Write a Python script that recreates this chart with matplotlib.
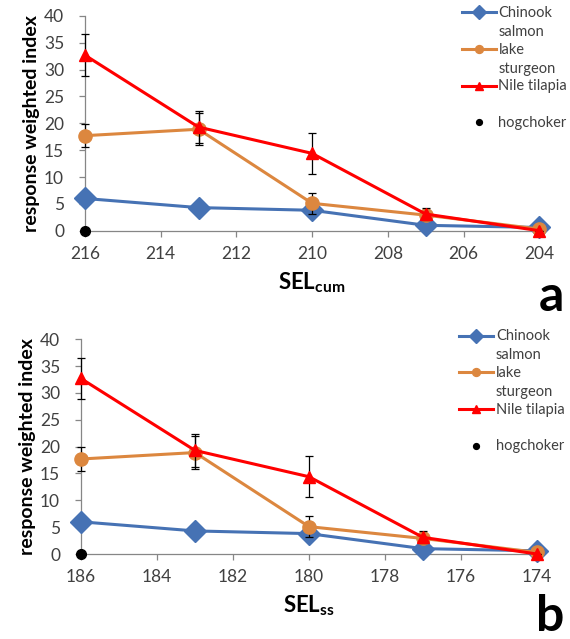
import matplotlib

matplotlib.use("Agg")
import matplotlib.pyplot as plt

plt.rcParams["font.family"] = ["Lato", "DejaVu Sans"]
plt.rcParams["mathtext.fontset"] = "custom"
plt.rcParams["mathtext.rm"] = "Lato"
plt.rcParams["mathtext.bf"] = "Lato:bold"

# data
sel_cum = [216, 213, 210, 207, 204]
sel_ss = [186, 183, 180, 177, 174]
chinook = [6.0, 4.3, 3.8, 1.0, 0.6]
sturgeon = [17.7, 18.9, 5.1, 2.9, 0.3]
sturgeon_err = [2.2, 3.0, 2.0, 0.0, 0.0]
tilapia = [32.7, 19.3, 14.4, 3.1, 0.0]
tilapia_err = [3.9, 3.0, 3.8, 1.1, 0.0]
hogchoker = [0.0]

C_BLUE = "#4672B4"
C_ORANGE = "#DC873F"
C_RED = "#FF0000"
C_AXIS = "#868686"
C_TICK = "#404040"


def draw_panel(ax, x, xlabel, letter, letter_y):
  l1, = ax.plot(x, chinook, "-D", color=C_BLUE, lw=2.2, ms=11.5, clip_on=False,
                zorder=3)
  e2 = ax.errorbar(x, sturgeon, yerr=sturgeon_err, fmt="-o", color=C_ORANGE,
                   lw=2.2, ms=9.5, ecolor="black", elinewidth=0.9, capsize=3,
                   capthick=0.9, clip_on=False, zorder=4)
  e3 = ax.errorbar(x, tilapia, yerr=tilapia_err, fmt="-^", color=C_RED, lw=2.2,
                   ms=9, ecolor="black", elinewidth=0.9, capsize=3, capthick=0.9,
                   clip_on=False, zorder=5)
  l4, = ax.plot(x[:1], hogchoker, "o", color="black", ms=7, clip_on=False,
                zorder=6)

  ax.set_xlim(x[0], x[-1])
  ax.set_ylim(0, 40)
  ax.set_yticks(range(0, 41, 5))
  ax.set_xticks(range(x[0], x[-1] - 1, -2))
  for s in ("top", "right"):
    ax.spines[s].set_visible(False)
  for s in ("left", "bottom"):
    ax.spines[s].set_color(C_AXIS)
    ax.spines[s].set_linewidth(0.9)
  ax.tick_params(colors=C_AXIS, labelcolor=C_TICK, labelsize=12.5, length=4,
                 width=0.9)
  ax.tick_params(axis="x", pad=7)
  ax.tick_params(axis="y", pad=11)
  ax.set_ylabel("response weighted index", fontsize=14, fontweight="bold",
                labelpad=3)
  ax.set_xlabel(xlabel, fontsize=16, labelpad=6)

  leg = ax.legend([l1, e2[0], e3[0], l4],
                  ["Chinook\nsalmon", "lake\nsturgeon", "Nile tilapia\n ",
                   "hogchoker\n "],
                  loc="upper left", bbox_to_anchor=(0.83, 1.095), frameon=False,
                  fontsize=10.5, handlelength=2.3, handletextpad=0.2,
                  labelspacing=0.25, borderaxespad=0, borderpad=0,
                  markerscale=0.6)
  for t in leg.get_texts():
    t.set_color(C_TICK)
    t.set_linespacing(1.45)
    t.set_position((0, -10.5))
  ax.text(0.998, letter_y, letter, transform=ax.transAxes, fontsize=36,
          fontweight="bold", ha="left", va="baseline")


fig = plt.figure(figsize=(5.7, 6.39), dpi=100)
ax1 = fig.add_axes([0.149, 0.639, 0.797, 0.336])
ax2 = fig.add_axes([0.142, 0.133, 0.800, 0.336])
draw_panel(ax1, sel_cum, r"$\mathbf{SEL_{cum}}$", "a", -0.375)
draw_panel(ax2, sel_ss, r"$\mathbf{SEL_{ss}}$", "b", -0.36)

fig.savefig("out.png", dpi=100)
